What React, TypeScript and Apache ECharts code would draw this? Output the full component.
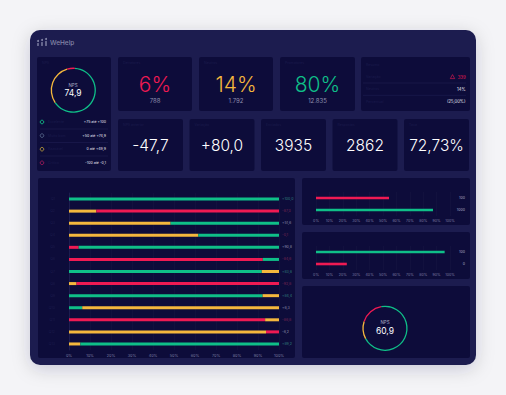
import React, { useEffect, useRef } from "react";
import * as echarts from "echarts";

const GREEN = "#0fbf88";
const RED = "#ef1a53";
const YELLOW = "#f4b73d";
const PANEL = "#1c1d4f";
const CARD = "#0d0c3a";
const DIM = "#1b1b4c";
const FONT = "Inter, 'Noto Sans', sans-serif";

// Big stacked chart
const rowLabels = ["Q1", "Q2", "Q3", "Q4", "Q5", "Q6", "Q7", "Q8", "Q9", "Q10", "Q11", "Q12", "Q13"];
const firstColor = ["g", "y", "y", "y", "r", "r", "g", "y", "g", "g", "r", "y", "y"];
const firstValue = [100, 13, 48.4, 61.6, 4.6, 92.3, 91.8, 3.6, 92.2, 6.3, 93.4, 93.8, 5.4];
const secondColor = ["g", "r", "g", "g", "g", "g", "y", "r", "y", "y", "y", "r", "g"];
const secondValue = [0, 87, 51.6, 38.4, 95.4, 7.7, 8.2, 96.4, 7.8, 93.7, 6.6, 6.2, 94.6];
const rowRightLabels = ["+100,0", "-87,0", "+51,6", "-0,1", "+90,8", "-84,6", "+83,6", "-92,8", "+84,4", "+6,3", "-86,8", "-6,2", "+89,2"];
const rowRightTone = ["g", "r", "w", "r", "w", "r", "g", "r", "g", "w", "r", "w", "g"];
const pctTicks = ["0%", "10%", "20%", "30%", "40%", "50%", "60%", "70%", "80%", "90%", "100%"];

// Small bar charts
const card1Labels = ["100", "1000"];
const card1Values = [54.5, 87.3];
const card1Colors = ["r", "g"];
const card2Labels = ["100", "0"];
const card2Values = [96, 23];
const card2Colors = ["g", "r"];

// Donuts
const donut1Values = [64.4, 30, 5.6]; // green, yellow, red
const donut1Score = "74,9";
const donut2Values = [70, 12.8, 17.2];
const donut2Score = "60,9";

// KPIs
const kpiTop = ["6%", "14%", "80%"];
const kpiTopSub = ["788", "1.792", "12.835"];
const kpiTopTitles = ["Detratores", "Neutros", "Promotores"];
const kpiRow2 = ["-47,7", "+80,0", "3935", "2862", "72,73%"];
const kpiRow2Titles = ["NPS anterior", "Variação", "Enviados", "Respostas", "Taxa"];
const legendTexts = ["+75 até +100", "+50 até +74,9", "0 até +49,9", "-100 até -0,1"];
const legendNames = ["Excelente", "Muito bom", "Razoável", "Crítico"];
const summaryValues = ["339", "14%", "(25,00%)"];
const summaryNames = ["Variação", "Neutros", "Percentual"];

const col = (c: string) => (c === "g" ? GREEN : c === "r" ? RED : c === "y" ? YELLOW : "#9a9ab8");
const toneCol = (c: string) => (c === "g" ? "#2f7f7a" : c === "r" ? "#7a2552" : "#8c8cac");

function txt(text: string, x: number, y: number, size: number, fill: string, align = "center", weight: any = "normal") {
  return {
    type: "text",
    x,
    y,
    silent: true,
    style: {
      text,
      fill,
      fontSize: size,
      fontFamily: FONT,
      fontWeight: weight,
      textAlign: align,
      textVerticalAlign: "middle",
      align,
      verticalAlign: "middle",
    },
  };
}
function rect(x: number, y: number, w: number, h: number, fill: string, r = 2, extra: any = {}) {
  return { type: "rect", silent: true, shape: { x, y, width: w, height: h, r }, style: { fill, ...extra } };
}
function hline(x1: number, x2: number, y: number, stroke: string) {
  return { type: "line", silent: true, shape: { x1, y1: y, x2, y2: y }, style: { stroke, lineWidth: 0.6 } };
}

export default function App() {
  const ref = useRef<HTMLDivElement>(null);
  useEffect(() => {
    if (!ref.current) return;
    const chart = echarts.init(ref.current, undefined, { renderer: "svg" });

    const cardsTop = [
      [118, 57, 74, 54],
      [199, 57, 74, 54],
      [280, 57, 75, 54],
    ];
    const cardsRow2 = [
      [118, 119, 65, 52],
      [189.5, 119, 65, 52],
      [261, 119, 65, 52],
      [332.5, 119, 65, 52],
      [404, 119, 65, 52],
    ];
    const kpiColors = [RED, YELLOW, GREEN];
    const legendColors = [GREEN, "#56668a", "#b59a3a", "#a01a5a"];

    const elements: any[] = [
      rect(30, 30, 446, 335, PANEL, 10, { shadowBlur: 18, shadowColor: "rgba(20,20,60,0.18)", shadowOffsetY: 4 }),
      // logo
      { type: "circle", silent: true, shape: { cx: 38, cy: 41, r: 1 }, style: { fill: "#8587a8" } },
      { type: "circle", silent: true, shape: { cx: 42, cy: 40, r: 1 }, style: { fill: "#8587a8" } },
      { type: "circle", silent: true, shape: { cx: 46, cy: 39, r: 1 }, style: { fill: "#8587a8" } },
      rect(37.3, 43, 1.4, 3, "#8587a8", 0.5),
      rect(41.3, 42, 1.4, 4, "#8587a8", 0.5),
      rect(45.3, 41, 1.4, 5, "#8587a8", 0.5),
      txt("WeHelp", 50, 42.5, 6.5, "#8587a8", "left", 500),
      // cards
      rect(37, 57, 74, 114, CARD),
      ...cardsTop.map((c) => rect(c[0], c[1], c[2], c[3], CARD)),
      rect(361, 57, 109, 54, CARD),
      ...cardsRow2.map((c) => rect(c[0], c[1], c[2], c[3], CARD)),
      rect(38, 178, 257, 180, CARD),
      rect(302, 178, 168, 47, CARD),
      rect(302, 232, 168, 47, CARD),
      rect(302, 286, 168, 72, CARD),
      // left card
      txt("NPS", 42, 63, 3.5, DIM, "left"),
      txt("NPS", 73, 85, 4.5, "#a9a9c4"),
      txt(donut1Score, 73, 93, 8.5, "#ffffff"),
      ...legendTexts.flatMap((t, i) => {
        const y = 122 + i * 13.6;
        return [
          { type: "circle", silent: true, shape: { cx: 42, cy: y, r: 1.8 }, style: { fill: "none", stroke: legendColors[i], lineWidth: 0.9 } },
          txt(legendNames[i], 48, y, 3.5, DIM, "left"),
          txt(t, 106, y, 3.6, "#e6e6f2", "right"),
        ];
      }),
      hline(40, 108, 129, "#1e1f52"),
      hline(40, 108, 142.5, "#1e1f52"),
      hline(40, 108, 156, "#1e1f52"),
      // top KPIs
      ...cardsTop.flatMap((c, i) => [
        txt(kpiTopTitles[i], c[0] + 5, c[1] + 6, 3.5, DIM, "left"),
        txt(kpiTop[i], c[0] + c[2] / 2, 84.5, 21, kpiColors[i], "center", 300),
        txt(kpiTopSub[i], c[0] + c[2] / 2, 100.5, 6, "#8f8fae"),
      ]),
      // summary card
      txt("Resumo", 366, 65, 3.5, DIM, "left"),
      ...summaryNames.map((n, i) => txt(n, 366, 77 + i * 12.3, 3.5, DIM, "left")),
      { type: "polygon", silent: true, shape: { points: [[452.5, 74.6], [450.3, 78.6], [454.7, 78.6]] }, style: { fill: "none", stroke: RED, lineWidth: 0.6 } },
      txt(summaryValues[0], 465.5, 77, 4.2, RED, "right"),
      txt(summaryValues[1], 465.5, 89, 4.2, "#e6e6f2", "right"),
      txt(summaryValues[2], 465.5, 101.5, 4.2, "#e6e6f2", "right"),
      hline(363, 466, 83, "#1e1f52"),
      hline(363, 466, 95.3, "#1e1f52"),
      // row 2 KPIs
      ...cardsRow2.flatMap((c, i) => [
        txt(kpiRow2Titles[i], c[0] + 5, c[1] + 6, 3.5, DIM, "left"),
        txt(kpiRow2[i], c[0] + c[2] / 2, 145, 15.5, "#ffffff", "center", 300),
      ]),
      // bottom-right donut
      txt("NPS", 385, 322.5, 4.5, "#a9a9c4"),
      txt(donut2Score, 385, 331, 8.5, "#ffffff"),
    ];

    const smallX = (grid: number) => ({
      type: "value",
      gridIndex: grid,
      min: 0,
      max: 100,
      interval: 10,
      axisLine: { show: false },
      axisTick: { show: false },
      axisLabel: { formatter: (v: number) => pctTicks[Math.round(v / 10)], fontSize: 3.6, color: "#7a7aa0", margin: 3, fontFamily: FONT },
      splitLine: { lineStyle: { color: "rgba(255,255,255,0.045)", width: 0.6 } },
    });

    const option: any = {
      animation: false,
      backgroundColor: "#f4f4f7",
      graphic: { elements },
      grid: [
        { left: 69, width: 210, top: 193, height: 157 },
        { left: 316, width: 134, top: 192, height: 24 },
        { left: 316, width: 134, top: 246, height: 24 },
      ],
      xAxis: [
        {
          ...smallX(0),
          axisLabel: { formatter: (v: number) => pctTicks[Math.round(v / 10)], fontSize: 3.8, color: "#7a7aa0", margin: 3, fontFamily: FONT },
        },
        smallX(1),
        smallX(2),
      ],
      yAxis: [
        {
          type: "category",
          gridIndex: 0,
          inverse: true,
          data: rowLabels,
          axisLine: { show: true, lineStyle: { color: "#25265a", width: 0.6 } },
          axisTick: { show: false },
          axisLabel: { fontSize: 3.5, color: DIM, margin: 14, fontFamily: FONT },
        },
        {
          type: "category",
          gridIndex: 1,
          inverse: true,
          position: "right",
          data: card1Labels,
          axisLine: { show: false },
          axisTick: { show: false },
          axisLabel: { fontSize: 3.6, color: "#a8a8c4", margin: 15, align: "right", fontFamily: FONT },
        },
        {
          type: "category",
          gridIndex: 2,
          inverse: true,
          position: "right",
          data: card2Labels,
          axisLine: { show: false },
          axisTick: { show: false },
          axisLabel: { fontSize: 3.6, color: "#a8a8c4", margin: 15, align: "right", fontFamily: FONT },
        },
      ],
      series: [
        {
          type: "bar",
          name: "first",
          stack: "row",
          xAxisIndex: 0,
          yAxisIndex: 0,
          barWidth: 3,
          silent: true,
          data: firstValue.map((v, i) => ({ value: v, itemStyle: { color: col(firstColor[i]) } })),
        },
        {
          type: "bar",
          name: "second",
          stack: "row",
          xAxisIndex: 0,
          yAxisIndex: 0,
          barWidth: 3,
          silent: true,
          data: secondValue.map((v, i) => ({
            value: v,
            itemStyle: { color: col(secondColor[i]) },
            label: {
              show: true,
              position: "right",
              distance: 3,
              formatter: rowRightLabels[i],
              fontSize: 3.6,
              color: toneCol(rowRightTone[i]),
              fontFamily: FONT,
            },
          })),
        },
        {
          type: "bar",
          xAxisIndex: 1,
          yAxisIndex: 1,
          barWidth: 2.6,
          silent: true,
          data: card1Values.map((v, i) => ({ value: v, itemStyle: { color: col(card1Colors[i]) } })),
        },
        {
          type: "bar",
          xAxisIndex: 2,
          yAxisIndex: 2,
          barWidth: 2.6,
          silent: true,
          data: card2Values.map((v, i) => ({ value: v, itemStyle: { color: col(card2Colors[i]) } })),
        },
        {
          type: "pie",
          center: [73.3, 90.2],
          radius: [21.3, 22.6],
          startAngle: 86,
          silent: true,
          label: { show: false },
          labelLine: { show: false },
          itemStyle: { borderWidth: 0 },
          data: donut1Values.map((v, i) => ({ value: v, itemStyle: { color: [GREEN, YELLOW, RED][i] } })),
        },
        {
          type: "pie",
          center: [385, 328.3],
          radius: [21.3, 22.6],
          startAngle: 100,
          silent: true,
          label: { show: false },
          labelLine: { show: false },
          itemStyle: { borderWidth: 0 },
          data: donut2Values.map((v, i) => ({ value: v, itemStyle: { color: [GREEN, YELLOW, RED][i] } })),
        },
      ],
    };
    chart.setOption(option);
    return () => chart.dispose();
  }, []);
  return <div ref={ref} style={{ position: "absolute", left: 0, top: 0, width: 506, height: 395 }} />;
}
